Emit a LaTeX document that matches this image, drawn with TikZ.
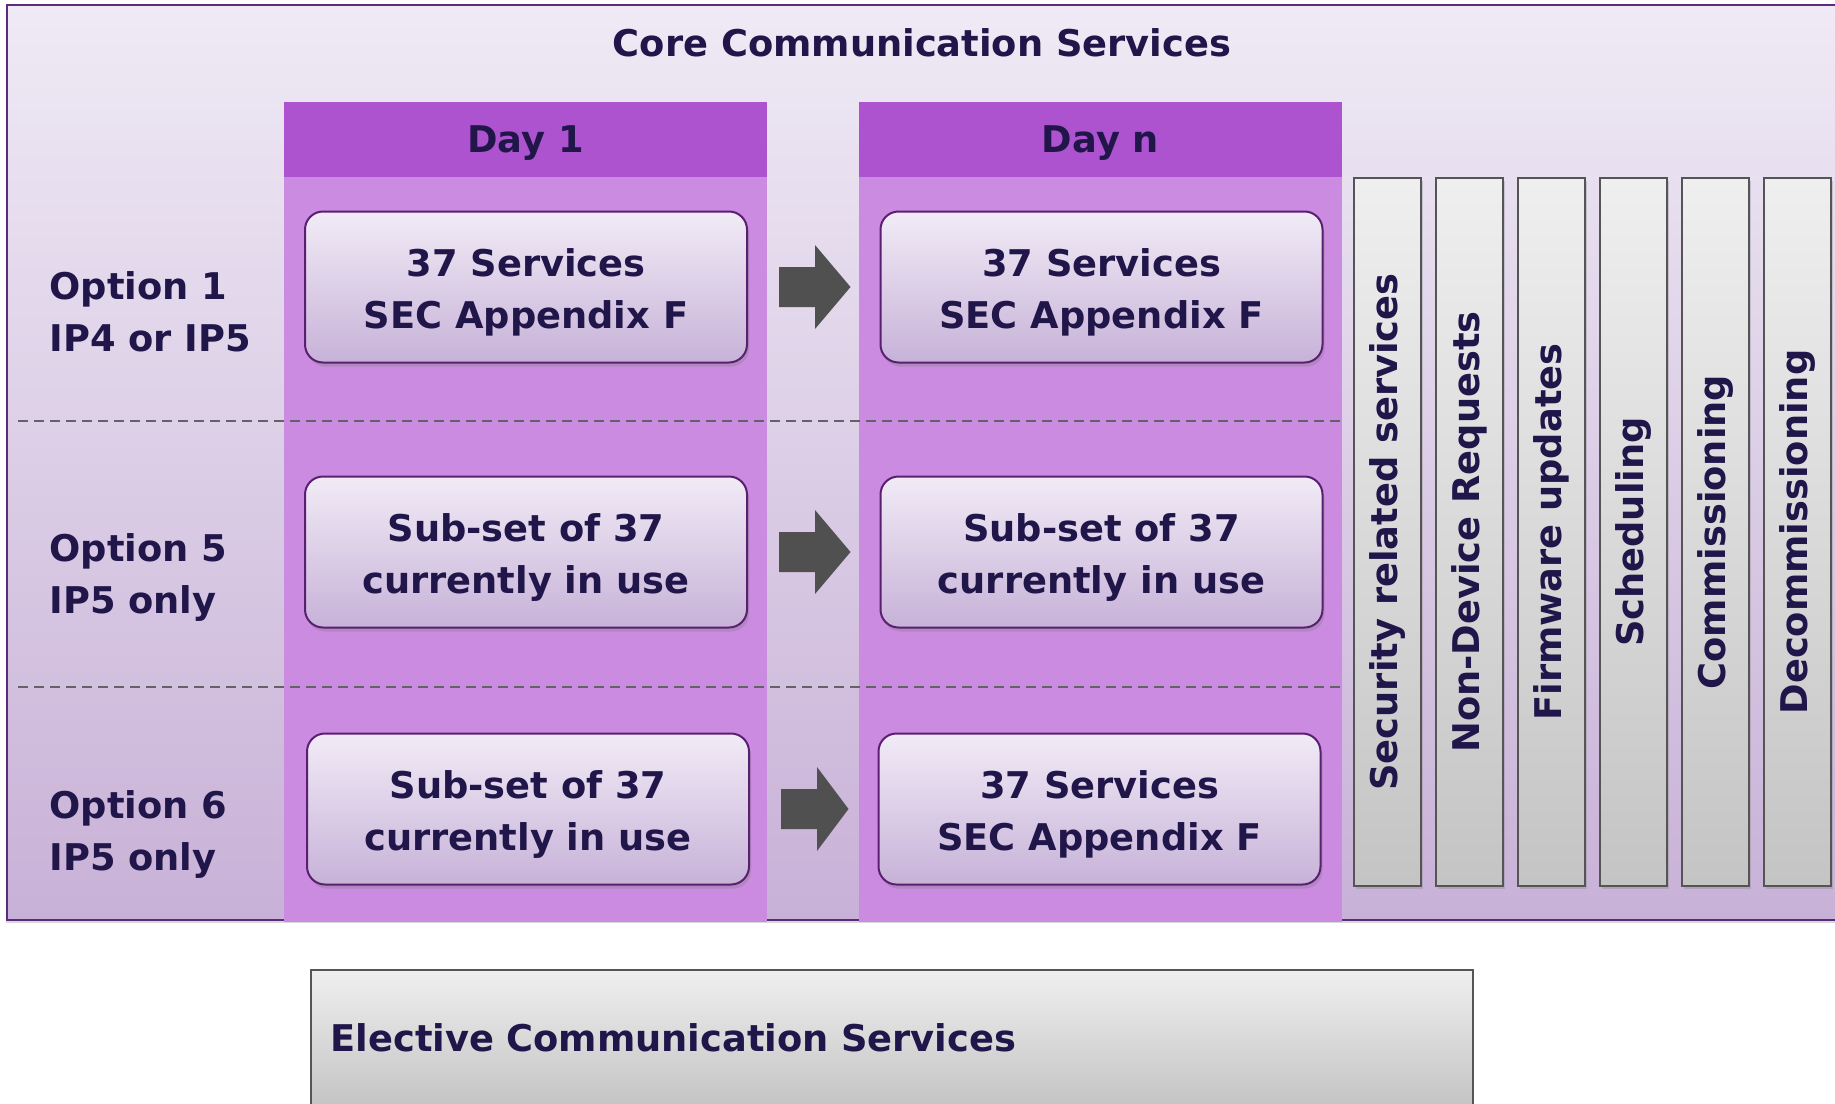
\documentclass[tikz,border=0pt]{standalone}
\usepackage{fontspec}
\setmainfont{DejaVu Sans}
\usetikzlibrary{positioning,calc,shadows}

\definecolor{ink}{HTML}{21164A}
\definecolor{frame}{HTML}{5E2A7E}
\definecolor{bgtop}{HTML}{EFEAF5}
\definecolor{bgbot}{HTML}{C8B1D7}
\definecolor{dayhead}{HTML}{AD53CF}
\definecolor{daybody}{HTML}{CA8BE1}
\definecolor{boxtop}{HTML}{F1EBF6}
\definecolor{boxbot}{HTML}{C7B2D8}
\definecolor{boxline}{HTML}{5B1F72}
\definecolor{bartop}{HTML}{EFEFEF}
\definecolor{barbot}{HTML}{C3C4C3}
\definecolor{barline}{HTML}{555555}
\definecolor{arrowgray}{HTML}{505050}
\definecolor{sepgray}{HTML}{636363}

% taller first line, pushes box text down a little
\newcommand\lift{\rule{0pt}{19pt}}

\begin{document}
\begin{tikzpicture}[x=0.5pt,y=-0.5pt,
    font=\fontsize{18.4}{26}\selectfont\bfseries, text=ink,
    dayhd/.style={fill=dayhead, minimum width=241.5pt, minimum height=37.5pt, inner sep=0pt,
      text depth=0pt},
    svcbox/.style={draw=boxline, line width=1pt, rounded corners=9pt,
      top color=boxtop, bottom color=boxbot, minimum width=221pt, minimum height=75.5pt,
      align=center, inner sep=0pt,
      drop shadow={shadow xshift=1pt, shadow yshift=-2pt, opacity=0.35}},
    groupbar/.style={draw=barline, line width=1pt, top color=bartop, bottom color=barbot,
      minimum width=33.5pt, minimum height=354pt, inner sep=0pt,
      drop shadow={shadow xshift=1pt, shadow yshift=-1.5pt, opacity=0.3}},
    rowlabel/.style={anchor=west, align=left, inner sep=0pt},
    sepline/.style={sepgray, line width=1pt, dash pattern=on 5pt off 3pt}]
  \useasboundingbox (0,0) rectangle (1835,1103);
  % Core frame, open on the right
  \path[top color=bgtop, bottom color=bgbot,
    drop shadow={shadow xshift=-0.5pt, shadow yshift=-1.5pt, opacity=0.3}] (7,5) rectangle (1860,920);
  \draw[frame, line width=1pt] (1860,5) -- (7,5) -- (7,920) -- (1860,920);
  \node (title) at (922,43) {Core Communication Services};
  % Day columns
  \fill[daybody] (284,177) rectangle (767,922);
  \fill[daybody] (859,177) rectangle (1342,922);
  \node[dayhd] (day1) at (525.5,139.5) {Day 1};
  \node[dayhd] (dayn) at (1100.5,139.5) {Day n};
  % Row separators
  \draw[sepline] (18,421) -- (1341,421);
  \draw[sepline] (18,687) -- (1341,687);
  % Options
  \node[rowlabel] (opt1) at (49,312) {Option 1\\IP4 or IP5};
  \node[rowlabel] (opt5) at (49,577) {Option 5\\IP5 only};
  \node[rowlabel] (opt6) at (49,834) {Option 6\\IP5 only};
  % Service boxes
  \node[svcbox] (a1) at (526,287) {\lift 37 Services\\SEC Appendix F};
  \node[svcbox] (b1) at (1101.5,287) {\lift 37 Services\\SEC Appendix F};
  \node[svcbox] (a2) at (526,552) {\lift Sub-set of 37\\currently in use};
  \node[svcbox] (b2) at (1101.5,552) {\lift Sub-set of 37\\currently in use};
  \node[svcbox] (a3) at (528,809) {\lift Sub-set of 37\\currently in use};
  \node[svcbox] (b3) at (1099.5,809) {\lift 37 Services\\SEC Appendix F};
  % Block arrows
  \foreach \r in {1,2,3}
    \fill[arrowgray] ($(a\r.east)+(31,20)$) -- ($(a\r.east)+(67,20)$) -- ($(a\r.east)+(67,42)$)
      -- ($(b\r.west)+(-29,0)$) -- ($(a\r.east)+(67,-42)$) -- ($(a\r.east)+(67,-20)$)
      -- ($(a\r.east)+(31,-20)$) -- cycle;
  % Service groups
  \foreach \t [count=\i from 0] in {Security related services,Non-Device Requests,
      Firmware updates,Scheduling,Commissioning,Decommissioning}
    \node[groupbar] (bar\i) at ({1387.5+82*\i},532) {\rotatebox{90}{\t}};
  % Elective services
  \node[draw=barline, line width=1pt, top color=bartop, bottom color=barbot,
    minimum width=581pt, minimum height=68pt, text width=561pt, inner xsep=10pt,
    align=left] (elective) at (891.5,1038) {Elective Communication Services};
\end{tikzpicture}
\end{document}
